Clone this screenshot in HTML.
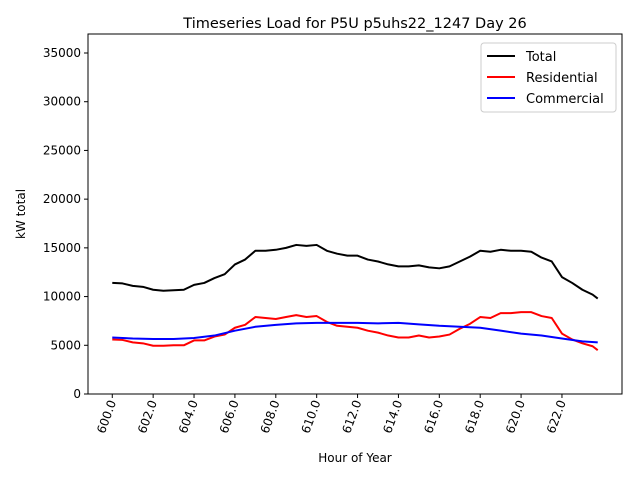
<!DOCTYPE html>
<html><head><meta charset="utf-8"><style>
body{margin:0;background:#fff;font-family:"DejaVu Sans","Liberation Sans",sans-serif}
</style></head><body>
<svg id="chart" width="640" height="480" xmlns="http://www.w3.org/2000/svg" font-family="DejaVu Sans, Liberation Sans, sans-serif"></svg>
<script>
const hours=[600,600.5,601,601.5,602,602.5,603,603.5,604,604.5,605,605.5,606,606.5,607,607.5,608,608.5,609,609.5,610,610.5,611,611.5,612,612.5,613,613.5,614,614.5,615,615.5,616,616.5,617,617.5,618,618.5,619,619.5,620,620.5,621,621.5,622,622.5,623,623.5,623.75];
const total=[11400,11350,11100,11000,10700,10600,10650,10700,11200,11400,11900,12300,13300,13800,14700,14700,14800,15000,15300,15200,15300,14700,14400,14200,14200,13800,13600,13300,13100,13100,13200,13000,12900,13100,13600,14100,14700,14600,14800,14700,14700,14600,14000,13600,12000,11400,10700,10200,9800];
const residential=[5600,5550,5300,5200,4950,4950,5000,5000,5500,5500,5900,6100,6800,7100,7900,7800,7700,7900,8100,7900,8000,7400,7000,6900,6800,6500,6300,6000,5800,5800,6000,5800,5900,6100,6700,7200,7900,7800,8300,8300,8400,8400,8000,7800,6200,5600,5200,4900,4500];
const comHours=[600,601,602,603,604,605,606,607,608,609,610,611,612,613,614,615,616,617,618,619,620,621,622,623,623.75];
const commercial=[5800,5700,5650,5650,5750,6000,6500,6900,7100,7250,7300,7300,7300,7250,7300,7150,7000,6900,6800,6500,6200,6000,5700,5400,5300];
const xTicks=[600,602,604,606,608,610,612,614,616,618,620,622];
const yTicks=[0,5000,10000,15000,20000,25000,30000,35000];

const L=88,R=622,T=34,B=394;
const xmin=598.8125,xmax=624.9375,ymin=0,ymax=36950;
const X=v=>L+(v-xmin)/(xmax-xmin)*(R-L);
const Y=v=>B-(v-ymin)/(ymax-ymin)*(B-T);
const svg=document.getElementById('chart');
const NS='http://www.w3.org/2000/svg';
function mk(tag,attrs,parent){const e=document.createElementNS(NS,tag);for(const k in attrs)e.setAttribute(k,attrs[k]);(parent||svg).appendChild(e);return e;}

const frame=mk('rect',{x:L,y:T,width:R-L,height:B-T,fill:'none',stroke:'#000','stroke-width':1});



yTicks.forEach(v=>{
  const y=Y(v);
  const t=mk('line',{x1:L-4,x2:L,y1:y,y2:y,stroke:'#000'});
  
  
  const tx=mk('text',{x:L-7,y:y+4,'text-anchor':'end','font-size':12});
  tx.textContent=v;
  
  
});
xTicks.forEach(v=>{
  const x=X(v);
  const t=mk('line',{x1:x,x2:x,y1:B,y2:B+4,stroke:'#000'});
  
  
  const tx=mk('text',{x:x+4,y:B+8,'text-anchor':'end','font-size':12,transform:`rotate(-70 ${x+4} ${B+8})`});
  tx.textContent=v.toFixed(1);
  
  
});

function series(xs,ys,color,name){
  const p=mk('polyline',{points:xs.map((h,i)=>X(h)+','+Y(ys[i])).join(' '),fill:'none',stroke:color,'stroke-width':2,'stroke-linejoin':'round'});
  
  
}
series(hours,total,'#000','total-line');
series(hours,residential,'#f00','residential-line');
series(comHours,commercial,'#00f','commercial-line');

const title=mk('text',{x:355,y:28,'text-anchor':'middle','font-size':14.5});
title.textContent='Timeseries Load for P5U p5uhs22_1247  Day 26';


const xl=mk('text',{x:355,y:462,'text-anchor':'middle','font-size':12});
xl.textContent='Hour of Year';


const yl=mk('text',{x:25,y:214,'text-anchor':'middle','font-size':12,transform:'rotate(-90 25 214)'});
yl.textContent='kW total';



const lg=mk('g',{});


mk('rect',{x:481,y:43,width:135,height:69,rx:3,fill:'#fff',stroke:'#ccc'},lg);
[['Total','#000'],['Residential','#f00'],['Commercial','#00f']].forEach((e,i)=>{
  const y=56+i*21;
  const ln=mk('line',{x1:487,x2:515,y1:y,y2:y,stroke:e[1],'stroke-width':2},lg);
  
  
  const t=mk('text',{x:526,y:y+5,'font-size':13},lg);
  t.textContent=e[0];
  
  
});
</script>
</body></html>
